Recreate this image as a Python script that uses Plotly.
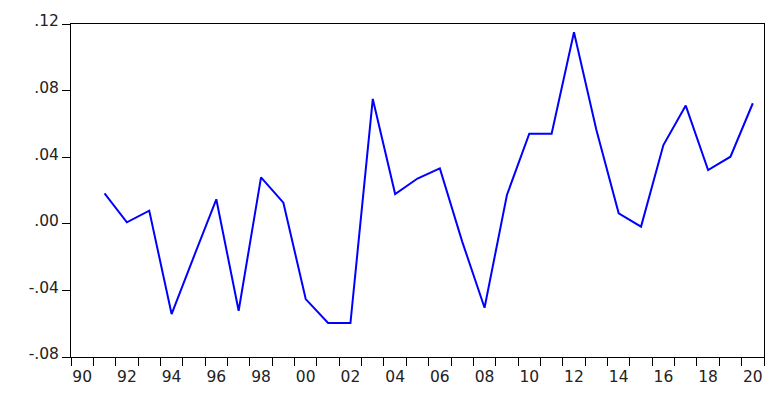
import plotly.graph_objects as go

years = list(range(1991, 2021))
values = [0.0183, 0.0009, 0.0079, -0.0542, -0.0195, 0.0147, -0.0522, 0.0279, 0.0127,
          -0.0452, -0.0596, -0.0596, 0.0750, 0.0179, 0.0272, 0.0333, -0.0107, -0.0504,
          0.0173, 0.0541, 0.0541, 0.1150, 0.0565, 0.0063, -0.0017, 0.0473, 0.0710,
          0.0323, 0.0403, 0.0724]

x_label_vals = list(range(1990, 2021, 2))
x_label_text = ["%02d" % (y % 100) for y in x_label_vals]
x_tick_bounds = [y + 0.5 for y in range(1989, 2021)]

y_tick_vals = [-0.08, -0.04, 0.0, 0.04, 0.08, 0.12]
y_tick_text = ["-.08", "-.04", ".00", ".04", ".08", ".12"]

font = dict(family="DejaVu Sans", size=15.5, color="#222222")

fig = go.Figure()
fig.add_trace(go.Scatter(x=years, y=values, mode="lines",
                         line=dict(color="#0000ff", width=2)))

# page body has an 8px default margin, so the figure is 8px smaller each way
fig.update_layout(
    width=771, height=395,
    margin=dict(l=63, r=15, t=16, b=46),
    paper_bgcolor="white", plot_bgcolor="white",
    showlegend=False,
    font=font,
)
fig.update_xaxes(
    range=[1989.5, 2020.5], automargin=False,
    tickmode="array", tickvals=x_label_vals, ticktext=x_label_text,
    ticks="outside", ticklen=5, tickcolor="rgba(0,0,0,0)",
    minor=dict(tickmode="array", tickvals=x_tick_bounds, ticks="outside",
               ticklen=8, tickwidth=1, tickcolor="black", showgrid=False),
    showline=True, linecolor="black", linewidth=1, mirror=True,
    showgrid=False, zeroline=False, tickfont=font,
)
fig.update_yaxes(
    range=[-0.08, 0.12], automargin=False,
    tickmode="array", tickvals=y_tick_vals, ticktext=y_tick_text,
    ticks="outside", ticklen=8, tickwidth=1, tickcolor="black",
    showline=True, linecolor="black", linewidth=1, mirror=True,
    showgrid=False, zeroline=False, tickfont=font, ticklabelshift=-3,
)

fig.write_html("out.html")
